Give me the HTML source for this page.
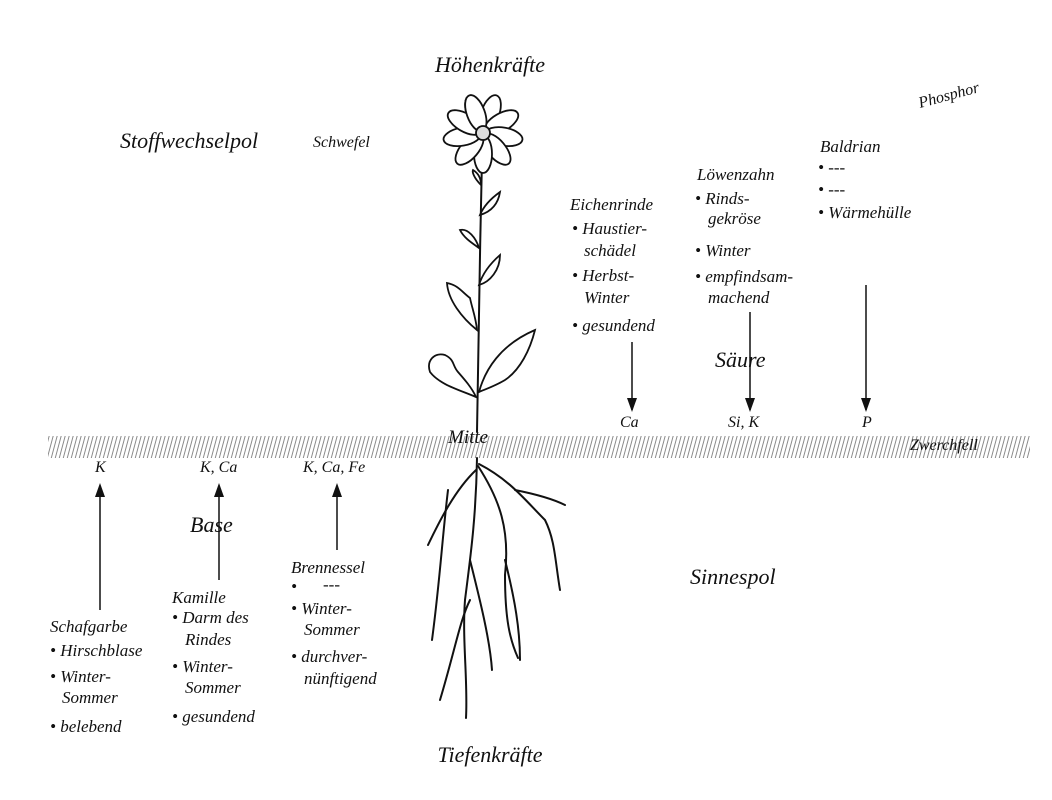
<!DOCTYPE html>
<html><head><meta charset="utf-8"><style>
html,body{margin:0;padding:0;background:#fff}
svg{display:block}
text{font-family:"Liberation Serif","DejaVu Serif",serif;font-style:italic;fill:#111}
.h{font-size:22px}
.t{font-size:17px}
.s{font-size:16px}
</style></head><body>
<svg width="1052" height="800" viewBox="0 0 1052 800" xmlns="http://www.w3.org/2000/svg">
<defs>
<pattern id="hat" width="4" height="22" patternUnits="userSpaceOnUse" patternTransform="skewX(-15)">
<line x1="2" y1="0" x2="2" y2="22" stroke="#888" stroke-width="1"/>
</pattern>
</defs>
<rect x="48" y="436" width="982" height="22" fill="url(#hat)"/>

<g stroke="#111" stroke-width="1.5" fill="none">
<line x1="632" y1="342" x2="632" y2="410"/>
<line x1="750" y1="312" x2="750" y2="410"/>
<line x1="866" y1="285" x2="866" y2="410"/>
<line x1="100" y1="610" x2="100" y2="486"/>
<line x1="219" y1="580" x2="219" y2="486"/>
<line x1="337" y1="550" x2="337" y2="486"/>
</g>
<g fill="#111">
<path d="M627,398 L637,398 L632,412 Z"/>
<path d="M745,398 L755,398 L750,412 Z"/>
<path d="M861,398 L871,398 L866,412 Z"/>
<path d="M95,497 L105,497 L100,483 Z"/>
<path d="M214,497 L224,497 L219,483 Z"/>
<path d="M332,497 L342,497 L337,483 Z"/>
</g>

<g stroke="#111" stroke-width="2" fill="none" stroke-linecap="round">
<path d="M482,158 C480,250 478,350 477,432"/>
<g fill="#fff" stroke-width="1.8">
<ellipse cx="483" cy="112" rx="9" ry="19" transform="rotate(-20 483 133)"/>
<ellipse cx="483" cy="112" rx="9" ry="19" transform="rotate(20 483 133)"/>
<ellipse cx="483" cy="112" rx="9" ry="19" transform="rotate(60 483 133)"/>
<ellipse cx="483" cy="112" rx="9" ry="19" transform="rotate(100 483 133)"/>
<ellipse cx="483" cy="112" rx="9" ry="19" transform="rotate(140 483 133)"/>
<ellipse cx="483" cy="112" rx="9" ry="19" transform="rotate(180 483 133)"/>
<ellipse cx="483" cy="112" rx="9" ry="19" transform="rotate(220 483 133)"/>
<ellipse cx="483" cy="112" rx="9" ry="19" transform="rotate(260 483 133)"/>
<ellipse cx="483" cy="112" rx="9" ry="19" transform="rotate(300 483 133)"/>
<ellipse cx="483" cy="112" rx="9" ry="19" transform="rotate(340 483 133)"/>
<circle cx="483" cy="133" r="7" fill="#ddd"/>
<path d="M481,185 C474,178 472,172 473,170 C478,173 481,178 481,185Z"/>
<path d="M480,215 C484,205 493,197 500,192 C498,205 490,212 480,215Z"/>
<path d="M479,248 C472,243 464,238 460,230 C468,228 476,238 479,248Z"/>
<path d="M479,285 C483,272 492,262 500,255 C500,270 490,282 479,285Z"/>
<path d="M477,330 C462,318 448,300 447,283 C458,285 462,292 470,298 C472,308 476,318 477,330Z"/>
<path d="M476,397 C460,390 440,385 430,372 C426,360 435,352 445,355 C455,360 452,365 458,372 C465,380 472,388 476,397Z"/>
<path d="M479,392 C485,370 500,345 535,330 C530,350 520,370 505,380 C495,386 486,389 479,392Z"/>
</g>
<path d="M477,458 C476,520 470,560 465,600 C462,640 468,680 466,718"/>
<path d="M476,470 C455,490 440,520 428,545"/>
<path d="M448,490 C442,540 440,580 432,640"/>
<path d="M478,466 C500,500 510,530 505,575 C505,620 510,640 518,658"/>
<path d="M479,464 C510,480 525,500 545,520 C555,540 555,560 560,590"/>
<path d="M515,490 C540,495 555,500 565,505"/>
<path d="M470,560 C480,600 490,640 492,670"/>
<path d="M470,600 C460,620 455,650 440,700"/>
<path d="M505,560 C515,600 520,630 520,660"/>
</g>

<text class="h" x="490" y="72" text-anchor="middle">Höhenkräfte</text>
<text class="s" x="920" y="108" transform="rotate(-15 920 108)">Phosphor</text>
<text class="h" x="120" y="148">Stoffwechselpol</text>
<text class="s" x="313" y="147">Schwefel</text>

<text class="t" x="570" y="210">Eichenrinde</text>
<text class="t" x="572" y="234">• Haustier-</text>
<text class="t" x="584" y="256">schädel</text>
<text class="t" x="572" y="281">• Herbst-</text>
<text class="t" x="584" y="303">Winter</text>
<text class="t" x="572" y="331">• gesundend</text>

<text class="t" x="697" y="180">Löwenzahn</text>
<text class="t" x="695" y="204">• Rinds-</text>
<text class="t" x="708" y="224">gekröse</text>
<text class="t" x="695" y="256">• Winter</text>
<text class="t" x="695" y="282">• empfindsam-</text>
<text class="t" x="708" y="303">machend</text>

<text class="t" x="820" y="152">Baldrian</text>
<text class="t" x="818" y="173">• ---</text>
<text class="t" x="818" y="195">• ---</text>
<text class="t" x="818" y="218">• Wärmehülle</text>

<text class="h" x="715" y="367">Säure</text>
<text class="s" x="620" y="427">Ca</text>
<text class="s" x="728" y="427">Si, K</text>
<text class="s" x="862" y="427">P</text>
<text x="448" y="443" style="font-size:19px">Mitte</text>
<text class="s" x="910" y="450">Zwerchfell</text>

<text class="s" x="95" y="472">K</text>
<text class="s" x="200" y="472">K, Ca</text>
<text class="s" x="303" y="472">K, Ca, Fe</text>
<text class="h" x="190" y="532">Base</text>
<text class="h" x="690" y="584">Sinnespol</text>

<text class="t" x="291" y="573">Brennessel</text>
<text class="t" x="291" y="592">•</text><text class="t" x="323" y="590">---</text>
<text class="t" x="291" y="614">• Winter-</text>
<text class="t" x="304" y="635">Sommer</text>
<text class="t" x="291" y="662">• durchver-</text>
<text class="t" x="304" y="684">nünftigend</text>

<text class="t" x="172" y="603">Kamille</text>
<text class="t" x="172" y="623">• Darm des</text>
<text class="t" x="185" y="645">Rindes</text>
<text class="t" x="172" y="672">• Winter-</text>
<text class="t" x="185" y="693">Sommer</text>
<text class="t" x="172" y="722">• gesundend</text>

<text class="t" x="50" y="632">Schafgarbe</text>
<text class="t" x="50" y="656">• Hirschblase</text>
<text class="t" x="50" y="682">• Winter-</text>
<text class="t" x="62" y="703">Sommer</text>
<text class="t" x="50" y="732">• belebend</text>

<text class="h" x="490" y="762" text-anchor="middle">Tiefenkräfte</text>
</svg>
</body></html>
